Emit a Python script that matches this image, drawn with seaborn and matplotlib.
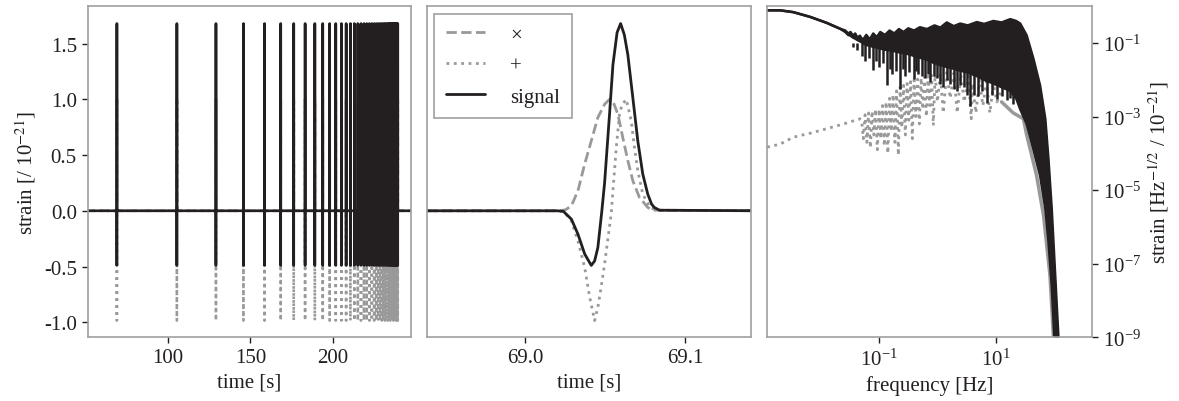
import numpy as np
import matplotlib
matplotlib.use("Agg")
import matplotlib.pyplot as plt
import matplotlib.ticker as mticker
import seaborn as sns

# ---------------- data ----------------
# single burst (middle panel)
t_cross = [68.93, 69.022, 69.0255, 69.029, 69.0331, 69.0373, 69.0414, 69.0455, 69.0497,
           69.0528, 69.0555, 69.058, 69.061, 69.0642, 69.0673, 69.0714, 69.0766, 69.080, 69.15]
h_cross = [0, 0, 0.01, 0.045, 0.18, 0.42, 0.627, 0.837, 0.956,
           1.0, 0.96, 0.866, 0.66, 0.45, 0.27, 0.12, 0.03, 0.005, 0]

t_plus = [68.93, 69.022, 69.025, 69.029, 69.0331, 69.0373, 69.0404, 69.0435, 69.0455, 69.0476,
          69.0497, 69.0538, 69.057, 69.059, 69.0605, 69.0632, 69.0663, 69.0683, 69.0704,
          69.0735, 69.078, 69.082, 69.15]
h_plus = [0, 0, -0.02, -0.09, -0.27, -0.51, -0.776, -0.985, -0.866, -0.68,
          -0.478, -0.03, 0.57, 0.866, 0.95, 1.0, 0.81, 0.57, 0.36,
          0.15, 0.03, 0.005, 0]

t_signal = [68.93, 69.020, 69.024, 69.029, 69.0331, 69.0373, 69.0414, 69.0435, 69.0455, 69.048,
            69.0497, 69.0528, 69.0549, 69.0575, 69.0597, 69.0620, 69.0642, 69.0673, 69.0704,
            69.0735, 69.0766, 69.0790, 69.0807, 69.0840, 69.15]
h_signal = [0, 0, -0.005, -0.075, -0.21, -0.388, -0.49, -0.45, -0.33, 0.0,
            0.25, 0.87, 1.31, 1.60, 1.68, 1.58, 1.40, 1.016, 0.627,
            0.33, 0.15, 0.06, 0.03, 0.005, 0]

# burst times (left panel), relative to the burst shown in the middle panel
burst_times = [69.0, 105.4, 129.1, 145.8, 158.6, 168.4, 176.3, 183.2, 189.1, 193.9, 198.1,
               201.8, 205.2, 208.1, 210.7, 213.1, 215.2, 217.1, 218.9, 220.6, 222.2, 223.7,
               225.1, 226.4, 227.6, 228.7, 229.7, 230.7, 231.6, 232.5, 233.3, 234.1, 234.8,
               235.5, 236.2, 236.8, 237.4, 238.0, 238.5, 239.0, 239.4]
series_start, series_end = 50.0, 250.0

# spectrum (right panel), log10 values
spec_logf = [-2.92, -2.70, -2.47, -2.18, -1.90, -1.67, -1.58, -1.53, -1.49, -1.45, -1.41, -1.37,
             -1.33, -1.28, -1.22, -1.16, -1.10, -1.04, -0.98, -0.90, -0.82, -0.74, -0.66, -0.58,
             -0.50, -0.40, -0.30, -0.18, -0.05, 0.05, 0.16, 0.28, 0.39, 0.52, 0.676, 0.80, 0.96,
             1.10, 1.25, 1.35, 1.42, 1.53, 1.647, 1.76, 1.85, 1.904, 1.96, 2.02, 2.075, 2.12]
signal_upper = [-0.11, -0.11, -0.16, -0.29, -0.45, -0.61, -0.66, -0.74, -0.70, -0.80, -0.74, -0.86,
                -0.80, -0.92, -0.78, -0.90, -0.74, -0.84, -0.70, -0.78, -0.66, -0.74, -0.62, -0.70,
                -0.60, -0.66, -0.57, -0.62, -0.52, -0.58, -0.44, -0.54, -0.47, -0.52, -0.43, -0.48, -0.40,
                -0.44, -0.35, -0.40, -0.47, -0.79, -1.43, -2.15, -3.06, -4.15, -5.5, -7.32, -9.0, -10.2]
signal_lower = [-0.11, -0.11, -0.16, -0.29, -0.45, -0.61, -0.70, -0.78, -0.80, -0.85, -0.88, -0.92,
                -0.95, -1.00, -1.05, -1.08, -1.10, -1.12, -1.15, -1.18, -1.20, -1.22, -1.25, -1.28,
                -1.30, -1.35, -1.40, -1.45, -1.55, -1.60, -1.65, -1.70, -1.75, -1.80, -1.90, -2.0, -2.1,
                -2.2, -2.3, -2.5, -2.8, -3.2, -3.9, -4.6, -5.5, -6.4, -7.6, -9.5, -10.5, -11.0]
spike_logf = [-1.45, -1.38, -1.30, -1.24, -1.17, -1.10, -1.05, -1.00, -0.94, -0.87, -0.82, -0.78,
              -0.71, -0.64, -0.59, -0.55, -0.48, -0.41, -0.37, -0.33, -0.27, -0.22, -0.17, -0.12,
              -0.06, 0.0, 0.05, 0.10, 0.16, 0.22, 0.28, 0.33, 0.39, 0.45, 0.50, 0.56, 0.63, 0.70,
              0.77, 0.85, 0.93, 1.02, 1.10, 1.19, 1.25, 1.30]
spike_bottom = [-1.1, -1.2, -1.35, -1.5, -1.4, -1.74, -1.5, -1.65, -1.55, -2.15, -1.7, -1.85,
                -1.75, -2.24, -1.7, -1.9, -1.8, -1.97, -1.75, -1.85, -1.9, -1.95, -1.85, -2.05,
                -1.9, -1.95, -2.1, -2.2, -2.0, -2.1, -2.25, -2.3, -2.15, -2.2, -2.4, -2.72, -2.4, -2.45,
                -2.3, -2.63, -2.4, -2.52, -2.45, -2.55, -2.5, -2.65]

plus_logf = [-2.92, -2.70, -2.47, -2.18, -1.90, -1.61, -1.45, -1.33, -1.30, -1.27, -1.24, -1.21,
             -1.18, -1.15, -1.12, -1.09, -1.06, -1.03, -1.00, -0.97, -0.94, -0.91, -0.88, -0.85,
             -0.82, -0.79, -0.76, -0.73, -0.70, -0.67, -0.64, -0.61, -0.58, -0.55, -0.52, -0.49,
             -0.46, -0.43, -0.40, -0.37, -0.34, -0.31, -0.28, -0.25, -0.22, -0.19, -0.16, -0.13,
             -0.10, -0.07, -0.04, 0.00, 0.05, 0.10, 0.16, 0.22, 0.28, 0.34, 0.40, 0.46, 0.53,
             0.58, 0.60, 0.66, 0.72, 0.78, 0.84, 0.90, 0.96, 1.02, 1.10]
plus_spec = [-3.83, -3.75, -3.56, -3.45, -3.33, -3.20, -3.12, -3.06, -3.1, -3.6, -2.95, -3.7,
             -2.9, -3.85, -2.85, -3.5, -2.8, -3.9, -2.8, -3.6, -2.7, -3.8, -2.6, -4.0,
             -2.5, -3.4, -2.4, -3.7, -2.3, -4.05, -2.2, -3.3, -2.15, -3.5, -2.1, -3.1,
             -2.05, -3.6, -2.0, -3.0, -1.98, -3.2, -1.95, -2.8, -1.92, -3.0, -1.9, -2.7,
             -1.88, -3.24, -1.86, -2.6, -1.84, -2.9, -1.8, -2.5, -1.82, -2.9, -1.85, -2.6, -1.9,
             -3.06, -2.1, -2.9, -2.0, -2.7, -2.05, -2.9, -2.1, -2.6, -2.3]
plus_tail_logf = [1.10, 1.30, 1.475, 1.53, 1.59, 1.70, 1.82, 1.93, 1.99, 2.03]
plus_tail_spec = [-2.6, -2.9, -3.06, -3.5, -3.88, -4.6, -5.69, -7.32, -9.0, -10.2]

# ---------------- style ----------------
sns.set_style("ticks")
plt.rcParams.update({
    "font.family": ["Liberation Serif", "DejaVu Serif"],
    "mathtext.fontset": "stix",
    "font.size": 15,
    "axes.labelsize": 15,
    "xtick.labelsize": 15,
    "ytick.labelsize": 15,
    "axes.unicode_minus": False,
    "axes.edgecolor": "#a0a0a0",
    "axes.linewidth": 1.2,
    "xtick.color": "#231f20",
    "ytick.color": "#231f20",
    "xtick.labelcolor": "#231f20",
    "ytick.labelcolor": "#231f20",
    "xtick.major.size": 4.5,
    "ytick.major.size": 4.5,
    "xtick.major.width": 1.0,
    "ytick.major.width": 1.0,
    "axes.labelcolor": "#231f20",
})

BLACK = "#231f20"
GRAY = "#999999"
LW = 2.0

fig = plt.figure(figsize=(11.79, 4.02), dpi=100)
ax1 = fig.add_axes([0.0746, 0.1585, 0.274, 0.8234])
ax2 = fig.add_axes([0.3622, 0.1585, 0.2748, 0.8234])
ax3 = fig.add_axes([0.6508, 0.1585, 0.2752, 0.8234])


def train(t_tmpl, h_tmpl):
    xs, ys = [series_start], [0.0]
    for tb in burst_times:
        for t, h in zip(t_tmpl, h_tmpl):
            xs.append(tb + (t - 69.0))
            ys.append(h)
    xs.append(series_end)
    ys.append(0.0)
    return np.array(xs), np.array(ys)


# ---------------- left panel ----------------
for (tt, hh, ls, col) in [(t_cross, h_cross, "--", GRAY), (t_plus, h_plus, ":", GRAY),
                          (t_signal, h_signal, "-", BLACK)]:
    x, y = train(tt, hh)
    sns.lineplot(x=x, y=y, ax=ax1, color=col, lw=1.9, linestyle=ls, sort=False,
                 estimator=None, legend=False)
ax1.set_xlim(51.5, 247.5)
ax1.set_ylim(-1.135, 1.835)
ax1.set_xticks([100, 150, 200])
ax1.set_yticks([-1.0, -0.5, 0.0, 0.5, 1.0, 1.5])
ax1.yaxis.set_major_formatter(mticker.FormatStrFormatter("%.1f"))
ax1.set_xlabel("time [s]")
ax1.set_ylabel(r"strain [/ 10$^{-21}$]")

# ---------------- middle panel ----------------
sns.lineplot(x=t_cross, y=h_cross, ax=ax2, color=GRAY, lw=LW, linestyle="--", sort=False,
             estimator=None, label="×")
sns.lineplot(x=t_plus, y=h_plus, ax=ax2, color=GRAY, lw=LW, linestyle=":", sort=False,
             estimator=None, label="+")
sns.lineplot(x=t_signal, y=h_signal, ax=ax2, color=BLACK, lw=LW, linestyle="-", sort=False,
             estimator=None, label="signal")
ax2.set_xlim(68.939, 69.141)
ax2.set_ylim(-1.135, 1.835)
ax2.set_xticks([69.0, 69.1])
ax2.xaxis.set_major_formatter(mticker.FormatStrFormatter("%.1f"))
ax2.set_yticks([])
ax2.set_ylabel("")
ax2.set_xlabel("time [s]")
leg = ax2.legend(loc="upper left", frameon=True, fancybox=False, handlelength=1.9,
                 handletextpad=1.2, labelspacing=0.55, borderpad=0.55, fontsize=15,
                 bbox_to_anchor=(0.0, 1.0), borderaxespad=0.35)
leg.get_frame().set_edgecolor("#a0a0a0")
leg.get_frame().set_linewidth(1.2)
leg.get_frame().set_alpha(1.0)
for txt in leg.get_texts():
    txt.set_color(BLACK)

# ---------------- right panel ----------------
f_all = 10.0 ** np.array(spec_logf)
ax3.set_xscale("log")
ax3.set_yscale("log")
sns.lineplot(x=10.0 ** np.array(plus_logf), y=10.0 ** np.array(plus_spec), ax=ax3, color=GRAY,
             lw=LW, linestyle=":", sort=False, estimator=None, legend=False)
sns.lineplot(x=10.0 ** np.array(plus_tail_logf), y=10.0 ** np.array(plus_tail_spec), ax=ax3,
             color=GRAY, lw=2.5, linestyle="-", sort=False, estimator=None, legend=False)
ax3.fill_between(f_all, 10.0 ** np.array(signal_lower), 10.0 ** np.array(signal_upper),
                 color=BLACK, lw=0)
ax3.vlines(10.0 ** np.array(spike_logf), 10.0 ** np.array(spike_bottom), 0.1, color=BLACK, lw=1.8)
sns.lineplot(x=f_all, y=10.0 ** np.array(signal_upper), ax=ax3, color=BLACK, lw=1.8,
             sort=False, estimator=None, legend=False)
sns.lineplot(x=f_all, y=10.0 ** np.array(signal_lower), ax=ax3, color=BLACK, lw=1.8,
             sort=False, estimator=None, legend=False)
ax3.set_xlim(1.21e-3, 443)
ax3.set_ylim(1e-9, 1.0)
ax3.set_xticks([1e-1, 1e1])
ax3.set_yticks([1e-1, 1e-3, 1e-5, 1e-7, 1e-9])
ax3.xaxis.set_minor_locator(mticker.NullLocator())
ax3.yaxis.set_minor_locator(mticker.NullLocator())
ax3.yaxis.tick_right()
ax3.yaxis.set_label_position("right")
ax3.set_xlabel("frequency [Hz]")
ax3.set_ylabel(r"strain [Hz$^{-1/2}$ / 10$^{-21}$]")

for ax in (ax1, ax2, ax3):
    for s in ax.spines.values():
        s.set_visible(True)
        s.set_color("#a0a0a0")

fig.savefig("out.png", dpi=100)
